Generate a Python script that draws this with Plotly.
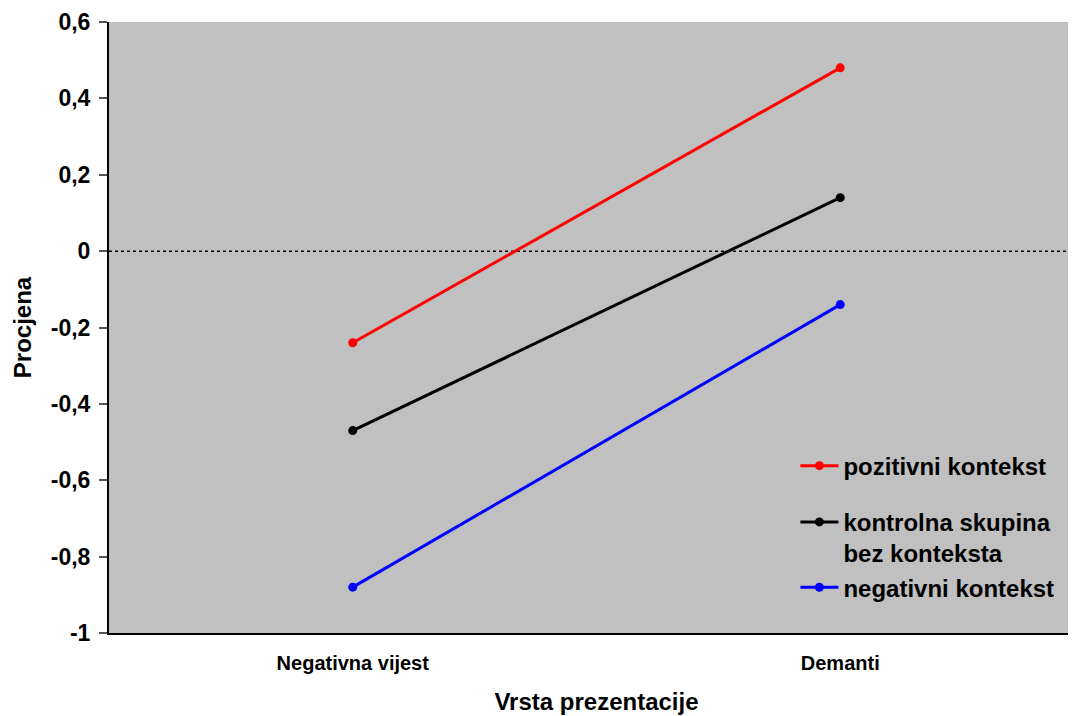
import plotly.graph_objects as go

categories = ["Negativna vijest", "Demanti"]
series_names = ["pozitivni kontekst", "kontrolna skupina<br>bez konteksta", "negativni kontekst"]
pozitivni = [-0.24, 0.48]
kontrolna = [-0.47, 0.14]
negativni = [-0.88, -0.14]
colors = ["#FF0000", "#000000", "#0000FF"]
groups = ["a", "b", "b"]
ytick_vals = [0.6, 0.4, 0.2, 0, -0.2, -0.4, -0.6, -0.8, -1]
ytick_text = ["0,6", "0,4", "0,2", "0", "-0,2", "-0,4", "-0,6", "-0,8", "-1"]

FONT = "Liberation Sans, Arial, sans-serif"

fig = go.Figure()
for name, vals, col, grp in zip(series_names, [pozitivni, kontrolna, negativni], colors, groups):
    fig.add_trace(go.Scatter(
        x=[0, 1], y=vals, name=name, mode="lines+markers",
        line=dict(color=col, width=3), marker=dict(color=col, size=9),
        legendgroup=grp,
    ))

fig.add_shape(type="line", xref="paper", yref="y", x0=0, x1=1, y0=0, y1=0,
              line=dict(color="black", width=1.5, dash="dot"), layer="below")

fig.update_layout(
    width=1076, height=716,
    margin=dict(l=101, r=0, t=14, b=91, autoexpand=False),
    paper_bgcolor="white", plot_bgcolor="#C0C0C0",
    font=dict(family=FONT, color="black"),
    showlegend=True,
    legend=dict(x=0.704, y=0.31, xanchor="left", yanchor="top", valign="top",
                bgcolor="rgba(0,0,0,0)", traceorder="grouped", tracegroupgap=22,
                font=dict(size=24, family=FONT, weight="bold", color="black"),
                itemwidth=38),
    xaxis=dict(range=[-0.5, 1.5], tickvals=[0, 1], ticktext=categories, automargin=False,
               tickfont=dict(size=20, weight="bold"), showgrid=False, zeroline=False,
               showline=True, linecolor="black", linewidth=2, ticks="", ticklabelstandoff=11,
               title=dict(text="Vrsta prezentacije", font=dict(size=24, weight="bold"), standoff=20)),
    yaxis=dict(range=[-1, 0.6], tickvals=ytick_vals, ticktext=ytick_text, automargin=False,
               tickfont=dict(size=23, weight="bold"), showgrid=False, zeroline=False,
               showline=True, linecolor="black", linewidth=2, ticklabelstandoff=4,
               ticks="outside", ticklen=8, tickcolor="#555555", tickwidth=1.5,
               title=dict(text="Procjena", font=dict(size=24, weight="bold"), standoff=12)),
)

fig.write_html("out.html")
